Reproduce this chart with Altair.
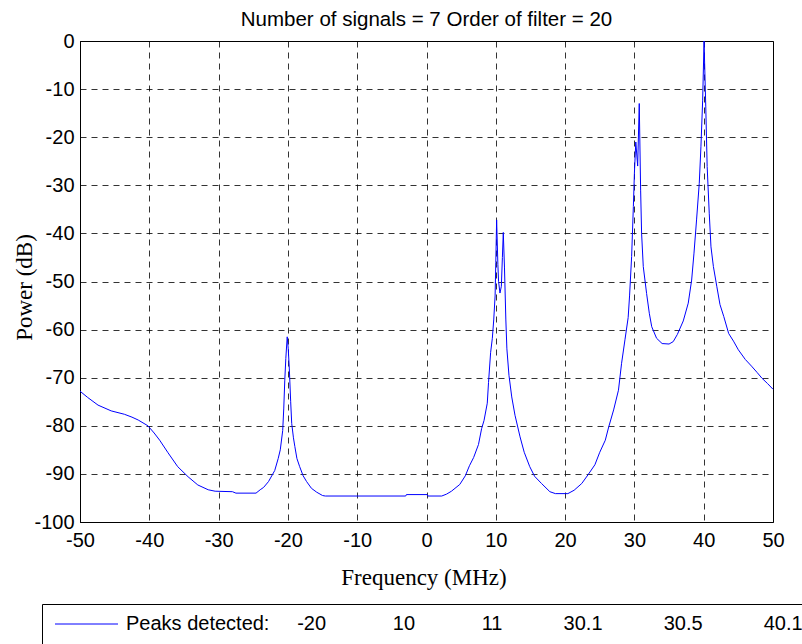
import altair as alt
import pandas as pd

# ---- data ----
freq = [-50.0, -48.9, -47.4, -45.5, -43.6, -42.5, -41.6, -40.2, -39.3, -38.5,
        -37.3, -35.9, -34.4, -33.0, -31.5, -30.5, -28.0, -27.5, -24.6, -24.0,
        -23.5, -22.8, -21.9, -21.4, -21.1, -20.75, -20.6, -20.45, -20.3, -20.1,
        -19.95, -19.8, -19.6, -19.45, -19.2, -19.0, -18.7, -18.3, -17.8, -17.3,
        -16.6, -15.85, -15.0, -14.6, -3.0, -2.9, 0.1, 0.2, 2.2, 2.9,
        3.6, 4.8, 5.6, 6.2, 6.8, 7.5, 7.95, 8.3, 8.77, 8.95,
        9.25, 9.5, 9.7, 9.9, 10.0, 10.12, 10.3, 10.4, 10.6, 10.8,
        10.95, 11.08, 11.25, 11.45, 11.6, 11.9, 12.3, 12.77, 13.5, 14.1,
        14.9, 15.6, 16.6, 17.8, 18.6, 20.4, 21.3, 22.4, 23.3, 24.3,
        25.0, 25.8, 26.3, 27.0, 27.7, 28.15, 28.65, 29.1, 29.3, 29.6,
        29.85, 30.0, 30.2, 30.47, 30.7, 30.9, 31.04, 31.28, 31.76, 32.15,
        32.5, 33.2, 34.0, 35.0, 35.6, 36.2, 37.05, 37.77, 38.26, 38.6,
        38.97, 39.36, 39.6, 39.85, 40.05, 40.3, 40.5, 40.8, 41.05, 41.4,
        41.9, 42.35, 42.9, 43.6, 44.3, 45.0, 46.0, 46.9, 47.7, 48.4,
        49.2, 50.0]
power = [-72.8, -74.1, -75.7, -76.9, -77.6, -78.2, -78.8, -80.0, -81.5, -83.0,
         -85.6, -88.5, -90.6, -92.3, -93.3, -93.6, -93.7, -94.0, -94.0, -93.3,
         -92.8, -91.6, -89.3, -86.8, -85.0, -81.0, -76.5, -70.5, -66.0, -61.5,
         -64.0, -68.0, -75.0, -79.5, -82.5, -84.3, -86.8, -88.5, -90.4, -91.6,
         -93.0, -93.8, -94.5, -94.6, -94.6, -94.3, -94.3, -94.6, -94.6, -94.2,
         -93.6, -92.2, -90.4, -88.3, -86.6, -83.9, -80.6, -78.9, -75.3, -71.0,
         -64.8, -61.8, -58.0, -53.0, -46.0, -37.2, -46.5, -50.0, -52.4, -51.0,
         -45.0, -39.8, -47.0, -58.0, -64.0, -69.5, -74.0, -77.8, -82.3, -85.5,
         -88.5, -90.5, -92.0, -93.7, -94.1, -94.1, -93.4, -92.0, -90.2, -88.1,
         -85.5, -83.0, -80.2, -76.7, -72.6, -67.0, -62.0, -57.5, -53.0, -44.8,
         -34.4, -27.5, -21.0, -26.0, -13.0, -31.0, -40.0, -46.9, -52.5, -56.6,
         -59.4, -61.8, -62.9, -63.0, -62.5, -61.0, -58.2, -54.5, -49.7, -44.1,
         -37.2, -29.6, -22.0, -12.3, 0.0, -13.7, -26.1, -35.8, -42.8, -46.9,
         -51.1, -54.8, -57.3, -60.8, -62.4, -64.2, -66.2, -67.6, -68.9, -70.1,
         -71.2, -72.4]

peaks = ["-20", "10", "11", "30.1", "30.5", "40.1"]
x_ticks = [-50, -40, -30, -20, -10, 0, 10, 20, 30, 40, 50]
y_ticks = [-100, -90, -80, -70, -60, -50, -40, -30, -20, -10, 0]
title_text = "Number of signals = 7 Order of filter = 20"

# legend label (non-breaking spaces keep the column spacing)
NBSP = "\u00a0"
gaps = [5, 12, 12, 11, 11, 11]
legend_label = "Peaks detected:" + "".join(NBSP * g + p for g, p in zip(gaps, peaks))

df = pd.DataFrame({"f": freq, "p": power, "series": legend_label})

SANS = "Liberation Sans, Arial, Helvetica, sans-serif"
SERIF = "Liberation Serif, Times New Roman, serif"

chart = alt.Chart(df).mark_line(strokeWidth=1).encode(
    x=alt.X("f:Q",
            scale=alt.Scale(domain=[-50, 50], nice=False, zero=False),
            axis=alt.Axis(values=x_ticks, labelExpr="datum.value + ''",
                          title="Frequency (MHz)", titleFont=SERIF, titleFontSize=23,
                          titleFontWeight="normal", titleColor="black",
                          titleX=343.5, titleY=62, titleAlign="center",
                          titleBaseline="alphabetic",
                          labelFont=SANS, labelFontSize=20, labelColor="black",
                          labelPadding=8, ticks=False, labelFlush=False,
                          labelOverlap=False,
                          grid=True, gridColor="black", gridOpacity=0.8,
                          gridDash=[6, 5], gridWidth=1,
                          domainColor="black", domainWidth=1)),
    y=alt.Y("p:Q",
            scale=alt.Scale(domain=[-100, 0], nice=False, zero=False),
            axis=alt.Axis(values=y_ticks, labelExpr="datum.value + ''",
                          title="Power (dB)", titleFont=SERIF, titleFontSize=23,
                          titleFontWeight="normal", titleColor="black",
                          titleX=-49, titleY=246, titleAngle=270,
                          titleAlign="center", titleBaseline="alphabetic",
                          labelFont=SANS, labelFontSize=20, labelColor="black",
                          labelPadding=6, ticks=False, labelFlush=False,
                          labelOverlap=False,
                          grid=True, gridColor="black", gridOpacity=0.8,
                          gridDash=[6, 5], gridWidth=1,
                          domainColor="black", domainWidth=1)),
    color=alt.Color("series:N",
                    scale=alt.Scale(range=["#0000ff"]),
                    legend=alt.Legend(title=None, orient="none",
                                      legendX=-38, legendY=563,
                                      direction="vertical",
                                      fillColor="white", strokeColor="black",
                                      padding=10,
                                      symbolType="M-4,0H4", symbolSize=248,
                                      symbolStrokeWidth=1, symbolOffset=24.5,
                                      labelOffset=29.5,
                                      labelFont=SANS, labelFontSize=20,
                                      labelColor="black", labelLimit=2000)),
).properties(
    width=693,
    height=481,
    title=alt.Title(title_text, font=SANS, fontSize=20.5, fontWeight="normal",
                    color="black", anchor="middle", baseline="alphabetic",
                    offset=3, dy=18),
    padding={"left": 80, "top": 41, "right": 29, "bottom": 122},
    autosize=alt.AutoSizeParams(type="none"),
    background="white",
).configure_view(
    stroke="black", strokeWidth=1
)

chart.save("out.html", embed_options={"renderer": "svg", "actions": False})
